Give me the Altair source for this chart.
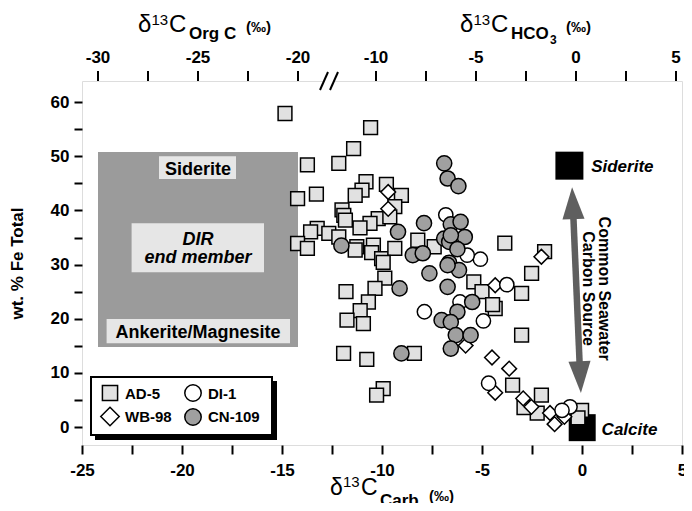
import altair as alt
import pandas as pd

FONT = "Liberation Sans"

# ---------------- data ----------------
SERIES = ["AD-5", "DI-1", "WB-98", "CN-109"]
SHAPES = ["square", "circle", "diamond", "circle"]
FILLS = ["#e1e1e1", "white", "white", "#a0a0a0"]
SIZES = [190, 230, 300, 230]

AD5_C = [-14.85, -10.57, -11.42, -12.16, -13.73, -14.22, -13.28, -10.8, -11.0, -11.34,
         -9.78, -12.0, -11.91, -11.83, -10.19, -10.6, -11.1, -13.24, -13.57, -12.66,
         -12.16, -14.22, -13.73, -11.26, -10.43, -10.52, -10.02, -9.36, -9.03, -9.36,
         -9.61, -8.21, -7.39, -11.34, -9.94, -9.86, -10.35, -11.8, -10.68, -11.09,
         -11.75, -10.93, -11.92, -10.76, -9.94, -10.27, -8.38, -3.86, -1.87, -2.52,
         -5.41, -5.0, -3.02, -4.34, -4.47, -3.02, -3.47, -2.03, -2.9, -2.24, -0.02, -0.2]
AD5_FE = [57.9, 55.3, 51.4, 48.7, 48.4, 42.2, 43.0, 45.3, 43.75, 42.8,
          44.8, 40.1, 39.1, 38.2, 38.5, 37.6, 36.8, 36.7, 36.05, 35.75,
          35.1, 33.9, 33.0, 33.3, 33.6, 32.2, 31.1, 33.0, 42.8, 40.7,
          38.8, 34.5, 33.3, 32.7, 30.4, 27.5, 25.6, 25.0, 23.1, 21.5,
          19.75, 19.1, 13.6, 12.5, 7.1, 5.9, 13.6, 33.95, 32.4, 28.4,
          26.8, 25.0, 24.7, 21.9, 22.6, 17.0, 7.75, 5.9, 3.6, 2.6, 3.1, 1.7]

WB_C = [-9.69, -9.69, -4.34, -2.03, -4.5, -3.64, -4.34, -2.94, -2.53, -1.6, -1.37, -0.88, -5.82]
WB_FE = [43.4, 40.3, 26.2, 31.45, 12.85, 10.8, 6.35, 5.3, 3.75, 2.6, 0.55, 1.9, 15.05]

DI_C = [-6.81, -5.08, -5.74, -7.88, -6.1, -3.76, -4.93, -4.67, -0.6, -1.0]
DI_FE = [39.2, 31.0, 31.75, 21.3, 23.1, 26.3, 19.6, 8.1, 3.75, 3.1]

CN_C = [-12.03, -9.2, -6.89, -6.72, -6.18, -7.9, -6.56, -6.07, -5.86, -8.46,
        -7.96, -6.89, -6.64, -6.56, -6.23, -6.64, -6.15, -7.63, -6.72, -9.12,
        -9.03, -6.72, -5.49, -6.23, -7.02, -6.56, -6.31, -5.57, -6.56]
CN_FE = [33.5, 36.05, 48.7, 45.9, 44.5, 37.65, 37.45, 37.9, 35.1, 31.75,
         32.1, 34.8, 34.2, 35.4, 32.85, 30.35, 29.0, 28.4, 29.9, 25.6,
         13.6, 25.9, 23.1, 21.3, 19.75, 19.4, 17.0, 17.0, 14.5]

# end members (black squares)
END_NAMES = ["Siderite", "Calcite"]
END_C = [-0.63, 0.01]
END_FE = [48.27, -0.1]
END_SIZE = [784, 729]

# axis ticks
X_TICKS = [-25, -22.5, -20, -17.5, -15, -12.5, -10, -7.5, -5, -2.5, 0, 2.5, 5]
Y_TICKS = [0, 5, 10, 15, 20, 25, 30, 35, 40, 45, 50, 55, 60]
ORG_TICKS = [-30, -27.5, -25, -22.5, -20]
HCO3_TICKS = [-10, -7.5, -5, -2.5, 0, 2.5, 5]
ORG_TO_CARB = 5.8      # shift of the organic-C scale against the carbonate scale
HCO3_TO_CARB = -0.3    # shift of the HCO3 scale against the carbonate scale
BREAK_C = [-12.9, -12.4]

# DIR end-member field
DIR_BOX = {"c1": [-24.2], "c2": [-14.2], "f1": [14.8], "f2": [50.8]}
LBL_BOX_C1 = [-21.15, -22.52, -23.77]
LBL_BOX_C2 = [-17.3, -15.9, -14.6]
LBL_BOX_F1 = [45.8, 28.6, 15.5]
LBL_BOX_F2 = [50.0, 37.66, 19.94]

# ---------------- scales / axes ----------------
XS = alt.Scale(domain=[-25, 5], nice=False, zero=False)
YS = alt.Scale(domain=[-3.3, 63.9], nice=False, zero=False)

XAXIS = alt.Axis(values=X_TICKS, labelExpr="datum.value % 5 == 0 ? '' + datum.value : ''",
                 domain=False, grid=False, tickSize=9, tickWidth=2, tickColor="black",
                 labelFont=FONT, labelFontSize=17, labelFontWeight="bold", labelColor="black",
                 labelPadding=8, labelFlush=False, labelOverlap=False, title=None)
YAXIS = alt.Axis(values=Y_TICKS, labelExpr="datum.value % 10 == 0 ? '' + datum.value : ''",
                 domain=False, grid=False, tickSize=8, tickWidth=2, tickColor="black",
                 labelFont=FONT, labelFontSize=17, labelFontWeight="bold", labelColor="black",
                 labelPadding=5, labelFlush=False, labelOverlap=False,
                 title="wt. % Fe Total", titleFont=FONT, titleFontSize=17, titleFontWeight="bold",
                 titleColor="black", titleX=-56, titleY=182)


def X(f):
    return alt.X(f, type="quantitative", scale=XS, axis=XAXIS)


def Y(f):
    return alt.Y(f, type="quantitative", scale=YS, axis=YAXIS)


def one():
    return pd.DataFrame({"k": [0]})


layers = []

# gray DIR field
layers.append(alt.Chart(pd.DataFrame(DIR_BOX)).mark_rect(color="#9b9b9b").encode(
    x=X("c1"), x2="c2", y=Y("f1"), y2="f2"))
layers.append(alt.Chart(pd.DataFrame({"c1": LBL_BOX_C1, "c2": LBL_BOX_C2,
                                      "f1": LBL_BOX_F1, "f2": LBL_BOX_F2})).mark_rect(color="#e6e6e6").encode(
    x=X("c1"), x2="c2", y=Y("f1"), y2="f2"))

box_txt = pd.DataFrame({"c": [-19.2, -19.2], "f": [46.6, 16.52], "t": ["Siderite", "Ankerite/Magnesite"]})
layers.append(alt.Chart(box_txt).mark_text(font=FONT, fontSize=18, fontWeight="bold", color="black",
                                           align="center", baseline="alphabetic").encode(
    x=X("c"), y=Y("f"), text="t:N"))
dir_txt = pd.DataFrame({"c": [-19.2, -19.2], "f": [33.6, 30.3], "t": ["DIR", "end member"]})
layers.append(alt.Chart(dir_txt).mark_text(font=FONT, fontSize=18, fontWeight="bold", fontStyle="italic",
                                           color="black", align="center", baseline="alphabetic").encode(
    x=X("c"), y=Y("f"), text="t:N"))

# end-member squares
for c, f, s in zip(END_C, END_FE, END_SIZE):
    layers.append(alt.Chart(pd.DataFrame({"c": [c], "f": [f]})).mark_point(
        shape="square", filled=True, color="black", opacity=1, size=s).encode(x=X("c"), y=Y("f")))

# double-headed arrow
ARROW_C = [-0.46, -0.09]
ARROW_F = [41.35, 9.23]
layers.append(alt.Chart(pd.DataFrame({"c": [ARROW_C[0]], "c2": [ARROW_C[1]],
                                      "f": [ARROW_F[0]], "f2": [ARROW_F[1]]})).mark_rule(
    color="#5f5f5f", strokeWidth=6.5).encode(x=X("c"), x2="c2", y=Y("f"), y2="f2"))
layers.append(alt.Chart(pd.DataFrame({"c": [ARROW_C[0]], "f": [ARROW_F[0]]})).mark_point(
    shape="M0,-1L0.69,1L-0.69,1Z", filled=True, color="#5f5f5f", opacity=1, size=1024, angle=357.5).encode(
    x=X("c"), y=Y("f")))
layers.append(alt.Chart(pd.DataFrame({"c": [ARROW_C[1]], "f": [ARROW_F[1]]})).mark_point(
    shape="M0,1L0.69,-1L-0.69,-1Z", filled=True, color="#5f5f5f", opacity=1, size=1024, angle=357.5).encode(
    x=X("c"), y=Y("f")))

# italic end-member labels
layers.append(alt.Chart(pd.DataFrame({"c": [0.457, 0.98], "f": [47.07, -1.38], "t": END_NAMES})).mark_text(
    font=FONT, fontSize=17, fontWeight="bold", fontStyle="italic", color="black",
    align="left", baseline="alphabetic").encode(x=X("c"), y=Y("f"), text="t:N"))
# rotated arrow caption
layers.append(alt.Chart(pd.DataFrame({"c": [1.1], "f": [25.57],
                                      "t": ["Common Seawater\nCarbon Source"]})).mark_text(
    font=FONT, fontSize=16, fontWeight="bold", color="black", align="center", baseline="middle",
    angle=90, lineBreak="\n", lineHeight=16).encode(x=X("c"), y=Y("f"), text="t:N"))

# data points
rows = []
for name, cs, fs in [("AD-5", AD5_C, AD5_FE), ("WB-98", WB_C, WB_FE),
                     ("DI-1", DI_C, DI_FE), ("CN-109", CN_C, CN_FE)]:
    for c, f in zip(cs, fs):
        rows.append({"series": name, "c": c, "f": f})
pts = pd.DataFrame(rows)

SHAPE = alt.Shape("series:N", scale=alt.Scale(domain=SERIES, range=SHAPES), legend=None)
FILL = alt.Fill("series:N", scale=alt.Scale(domain=SERIES, range=FILLS), legend=None)
SIZE = alt.Size("series:N", scale=alt.Scale(domain=SERIES, range=SIZES), legend=None)

layers.append(alt.Chart(pts).mark_point(filled=True, opacity=1, stroke="black", strokeWidth=1.5).encode(
    x=X("c"), y=Y("f"), shape=SHAPE, fill=FILL, size=SIZE))

# legend box (pixel positions relative to the plot area)
layers.append(alt.Chart(one()).mark_rect(color="black").encode(
    x=alt.value(13), x2=alt.value(195), y=alt.value(300), y2=alt.value(359)))
layers.append(alt.Chart(one()).mark_rect(fill="white", stroke="black", strokeWidth=2).encode(
    x=alt.value(9), x2=alt.value(190), y=alt.value(296), y2=alt.value(354)))
LEG_SYM_X = [28, 111, 28, 111]
LEG_SYM_Y = [312, 312, 335.5, 336]
LEG_TXT_X = [43, 126, 43, 126]
LEG_TXT_Y = [317.5, 317.5, 341, 341]
for i, name in enumerate(SERIES):
    layers.append(alt.Chart(pd.DataFrame({"series": [name]})).mark_point(
        filled=True, opacity=1, stroke="black", strokeWidth=1.5).encode(
        x=alt.value(LEG_SYM_X[i]), y=alt.value(LEG_SYM_Y[i]),
        shape=SHAPE, fill=FILL, size=alt.value(SIZES[i] + 40)))
    layers.append(alt.Chart(pd.DataFrame({"series": [name]})).mark_text(
        font=FONT, fontSize=15, fontWeight="bold", color="black", align="left", baseline="alphabetic").encode(
        x=alt.value(LEG_TXT_X[i]), y=alt.value(LEG_TXT_Y[i]), text="series:N"))

# top (secondary) axes
top = pd.DataFrame({
    "v": ORG_TICKS + HCO3_TICKS,
    "c": [v + ORG_TO_CARB for v in ORG_TICKS] + [v + HCO3_TO_CARB for v in HCO3_TICKS],
})
top["label"] = [("%g" % v) if v % 5 == 0 else "" for v in top["v"]]
layers.append(alt.Chart(top).mark_rule(color="black", strokeWidth=2).encode(
    x=X("c"), y=alt.value(-10), y2=alt.value(0)))
layers.append(alt.Chart(top).mark_text(font=FONT, fontSize=17, fontWeight="bold", color="black",
                                       align="center", baseline="alphabetic").encode(
    x=X("c"), y=alt.value(-18), text="label:N"))

# axis break
layers.append(alt.Chart(pd.DataFrame({"a": [BREAK_C[0]], "b": [BREAK_C[1]]})).mark_rule(
    color="white", strokeWidth=5).encode(x=X("a"), x2="b", y=alt.value(0)))
brk = pd.DataFrame({"a": [b - 0.2 for b in BREAK_C], "b": [b + 0.2 for b in BREAK_C]})
layers.append(alt.Chart(brk).mark_rule(color="black", strokeWidth=2).encode(
    x=X("a"), x2="b", y=alt.value(9), y2=alt.value(-9)))

# composite axis titles (pixel positions relative to the plot area)
TITLE_PARTS = [
    # text, x, y, size, weight
    ("\u03b4", 248, 414, 23, "normal"), ("13", 261, 406, 15, "normal"), ("C", 279, 414, 23, "normal"),
    ("Carb", 298, 425, 17, "bold"), ("(\u2030)", 347, 420, 15, "bold"),
    ("\u03b4", 56, -49, 24, "normal"), ("13", 69.5, -56, 15, "normal"), ("C", 87, -49, 24, "normal"),
    ("Org C", 107, -42, 17, "bold"), ("(\u2030)", 164, -49, 15, "bold"),
    ("\u03b4", 378, -49, 24, "normal"), ("13", 391.5, -56, 15, "normal"), ("C", 409, -49, 24, "normal"),
    ("HCO", 429, -42, 17, "bold"), ("3", 468, -37, 12, "bold"), ("(\u2030)", 484, -49, 15, "bold"),
]
for t, px, py, sz, w in TITLE_PARTS:
    layers.append(alt.Chart(one()).mark_text(font=FONT, fontSize=sz, fontWeight=w, color="black",
                                             align="left", baseline="alphabetic").encode(
        x=alt.value(px), y=alt.value(py), text=alt.value(t)))

chart = alt.layer(*layers).properties(
    width=600, height=364,
    autosize=alt.AutoSizeParams(type="none"),
    padding={"left": 74, "top": 73, "right": 2, "bottom": 58},
    background="white",
).configure_view(stroke="black", strokeWidth=2.5).configure(font=FONT)

chart.save("out.html", embed_options={"renderer": "svg", "actions": False})
